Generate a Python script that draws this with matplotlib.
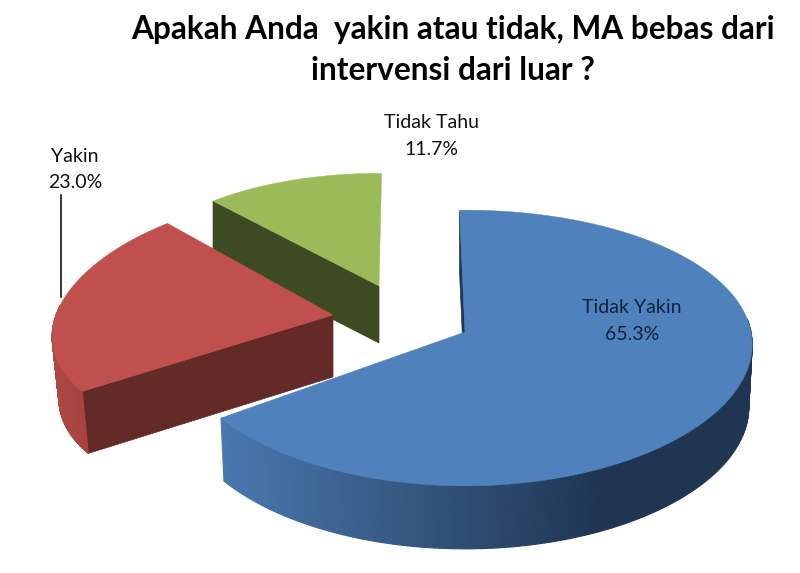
import numpy as np
import matplotlib
matplotlib.use('Agg')
import matplotlib.pyplot as plt
from matplotlib.patches import Polygon

plt.rcParams['font.family'] = ['Lato', 'DejaVu Sans']

labels = ['Tidak Yakin', 'Yakin', 'Tidak Tahu']
values = [65.3, 23.0, 11.7]
top_colors = ['#4f81bd', '#c0504d', '#9bbb59']
cut_colors = ['#1f3552', '#632a28', '#3d4a22']
side_light = ['#4a78af', '#ad4744', '#7f9a49']
side_dark = ['#1f3552', '#9a3e3b', '#3d4a22']

# tip x, tip y, rx, ry, x perspective, y perspective, depth, rotation, bottom shrink
geom = [(465, 332, 286, 136, 0.09, 0.116, 63, -1.2, 0.988),
        (333, 315, 277, 129, 0.165, 0.06, 62, 0, 0.976),
        (379, 286, 256, 116, 0.03, 0.03, 57, 0.6, 1.0)]


def project(g, ang):
    cx, cy, rx, ry, kx, ky, d, rot, b = g
    ang = ang + np.radians(rot)
    u, v = np.sin(ang), np.cos(ang)
    return cx + rx * u / (1 + kx * v), cy - ry * v / (1 + ky * v)


def lower(g, x, y):
    # point under (x, y) on the bottom of the slice
    return g[0] + (x - g[0]) * g[8], y + g[6]


fig = plt.figure(figsize=(8, 5.73), dpi=100)
ax = fig.add_axes([0, 0, 1, 1])
ax.set_xlim(0, 800)
ax.set_ylim(573, 0)
ax.axis('off')


def mix(c1, c2, t):
    a = np.array(matplotlib.colors.to_rgb(c1))
    b = np.array(matplotlib.colors.to_rgb(c2))
    return a + (b - a) * t


def draw_slice(i, start, end):
    g = geom[i]
    cx, cy = g[0], g[1]
    angs = np.linspace(start, end, 240)
    xs, ys = project(g, angs)
    xb, yb = lower(g, xs, ys)

    # cut face on the leading edge, the other one is hidden
    x, y = project(g, start)
    ax.add_patch(Polygon([(cx, cy), (x, y), lower(g, x, y), lower(g, cx, cy)],
                         color=cut_colors[i], lw=0.5))

    # outer wall, only where it faces the viewer
    x_min, x_max = xs.min(), xs.max()
    for j in range(len(angs) - 1):
        if np.cos((angs[j] + angs[j + 1]) / 2) > 0.08:
            continue
        t = min((xs[j] - x_min) / max(x_max - x_min, 1) / 0.72, 1)
        col = mix(side_light[i], side_dark[i], t)
        ax.add_patch(Polygon([(xs[j], ys[j]), (xs[j + 1], ys[j + 1]),
                              (xb[j + 1], yb[j + 1]), (xb[j], yb[j])],
                             color=col, lw=0.8))

    # top
    ax.add_patch(Polygon(np.vstack([[cx, cy], np.column_stack([xs, ys])]),
                         color=top_colors[i], lw=0.3))


# drawn back to front
fractions = np.cumsum([0] + values) / sum(values) * 2 * np.pi
for i in [2, 1, 0]:
    draw_slice(i, fractions[i], fractions[i + 1])

ax.text(453, 50, 'Apakah Anda  yakin atau tidak, MA bebas dari\nintervensi dari luar ?',
        ha='center', va='center', fontsize=22.8, fontweight='bold',
        linespacing=1.5, color='black')
pct = [f'{v:.1f}%' for v in values]
ax.text(632, 321, f'{labels[0]}\n{pct[0]}', ha='center', va='center', fontsize=14,
        linespacing=1.7, color='#10233c')
ax.text(75, 169.5, f'{labels[1]}\n{pct[1]}', ha='center', va='center', fontsize=14,
        linespacing=1.7, color='#111111')
ax.text(431.5, 136, f'{labels[2]}\n{pct[2]}', ha='center', va='center', fontsize=14,
        linespacing=1.7, color='#111111')
ax.plot([60.5, 60.5], [195, 297], color='black', lw=1.1, zorder=5)

fig.savefig('out.png', dpi=100, facecolor='white')
